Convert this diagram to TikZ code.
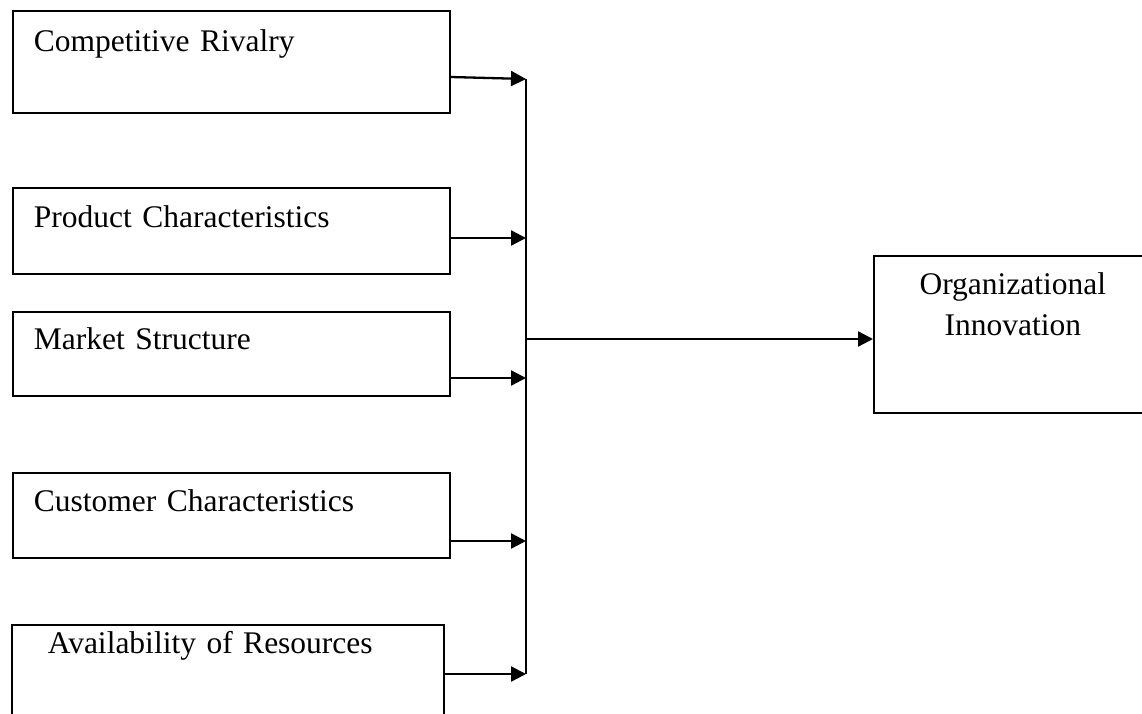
\documentclass[tikz,border=0pt]{standalone}
\usepackage{fontspec}
\setmainfont{Liberation Serif}
\usetikzlibrary{calc,arrows.meta}

\begin{document}
\begin{tikzpicture}[x=1pt, y=-1pt, factor/.style={rectangle, draw, line width=1.7pt, anchor=north west, inner xsep=21pt, inner ysep=0pt, text width=395pt, align=left, font=\fontsize{31.5}{41}\selectfont}, outcome/.style={factor, inner xsep=10pt, text width=258pt, align=center}, link/.style={line width=2.3pt}, >={Triangle[length=15pt,width=15pt]}]
            \useasboundingbox (0,0) rectangle (1142,714);
            % Nodes
            \node[factor, text height=41pt, text depth=61pt] (rivalry) at (12,10) {Competitive Rivalry};
            \node[factor, text height=40pt, text depth=46pt] (product) at (12,187) {Product Characteristics};
            \node[factor, text height=38pt, text depth=46pt] (market) at (12,311) {Market Structure};
            \node[factor, text height=39pt, text depth=46pt] (customer) at (12,472) {Customer Characteristics};
            \node[factor, inner xsep=36pt, text width=360pt, text height=29pt, text depth=87pt] (resources) at (11,624) {Availability of Resources};
            \node[outcome, text height=39pt, text depth=118pt] (org) at (873,255) {Organizational\\Innovation};
            \coordinate (in1) at (526,79);
            \coordinate (in2) at (526,238);
            \coordinate (in3) at (526,378);
            \coordinate (in4) at (526,541);
            \coordinate (in5) at (526,674);
            \coordinate (hub) at (526,339);
            % Edges
            \draw[link,->] (rivalry.east |- 0,77) -- (in1);
            \draw[link,->] let \p1 = (product.east), \p2 = (in2) in (\x1,\y2) -- (in2);
            \draw[link,->] let \p1 = (market.east), \p2 = (in3) in (\x1,\y2) -- (in3);
            \draw[link,->] let \p1 = (customer.east), \p2 = (in4) in (\x1,\y2) -- (in4);
            \draw[link,->] let \p1 = (resources.east), \p2 = (in5) in (\x1,\y2) -- (in5);
            \draw[link] (in1) -- (in5);
            \draw[link,->] (hub) -- (hub -| org.west);
        \end{tikzpicture}
\end{document}
